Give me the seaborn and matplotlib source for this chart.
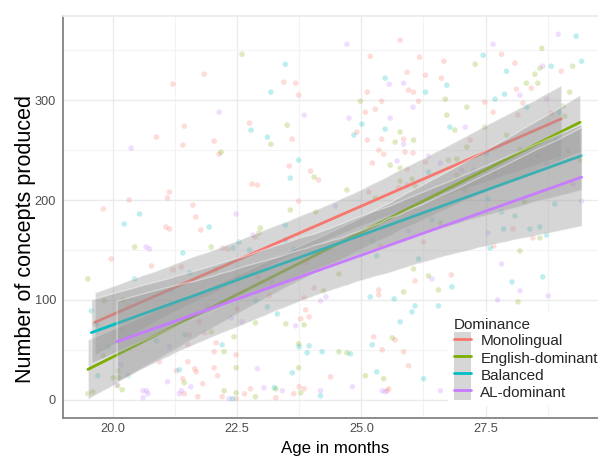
import numpy as np
import pandas as pd
import seaborn as sns
import matplotlib.pyplot as plt
from matplotlib.patches import Patch
from matplotlib.lines import Line2D

# Veriler (grafikten okunan yaklasik degerler)
groups = ["Monolingual", "English-dominant", "Balanced", "AL-dominant"]
colors = ["#F8766D", "#7CAE00", "#00BFC4", "#C77CFF"]

mono_age = [21.84, 21.21, 21.44, 20.88, 21.41, 22.04, 22.14, 21.14, 20.33, 21.10, 19.81, 21.61, 21.67,
            25.78, 25.18, 26.17, 25.92, 25.95, 26.05, 23.44, 23.68, 23.74, 25.12, 25.41, 26.15, 25.28,
            25.08, 22.75, 24.91, 23.61, 25.12, 25.41, 25.85, 25.35, 25.45, 25.88, 26.04, 25.22, 25.92,
            23.55, 23.98, 24.14, 25.75, 25.92, 22.80, 22.91, 25.15, 23.74, 26.66, 27.82, 28.09, 29.02,
            26.29, 26.61, 28.12, 28.42, 27.48, 28.25, 27.65, 28.82, 28.15, 27.19, 26.29, 27.69, 28.05,
            28.45, 26.25, 27.66, 26.81, 21.07, 21.14, 21.77, 22.21, 22.31, 19.97, 20.78, 21.21, 21.38,
            19.64, 20.31, 20.20, 20.94, 21.54, 21.51, 21.51, 21.28, 21.65, 21.68, 21.41, 21.81, 21.44,
            21.71, 21.85, 22.08, 22.04, 22.04, 22.11, 21.90, 21.74, 22.48, 22.20, 22.48, 22.50, 22.87,
            23.88, 22.92, 23.04, 23.15, 24.05, 23.85, 23.88, 23.78, 23.95, 25.35, 25.35, 26.08, 25.38,
            25.25, 25.42, 25.68, 25.85, 25.95, 25.52, 25.55, 24.38, 22.65, 22.77, 23.28, 23.64, 23.75,
            23.85]
mono_conc = [326, 316, 274, 263, 255, 259, 246, 208, 200, 202, 191, 195, 183,
             360, 344, 343, 328, 310, 308, 318, 317, 305, 308, 299, 299, 291,
             288, 277, 268, 261, 260, 261, 261, 250, 246, 248, 247, 237, 231,
             234, 229, 220, 212, 215, 216, 215, 208, 199, 339, 346, 337, 329,
             325, 322, 311, 312, 298, 297, 288, 287, 285, 260, 238, 226, 171,
             162, 158, 154, 125, 173, 171, 170, 152, 151, 141, 134, 130, 133,
             76, 93, 70, 38, 65, 55, 38, 29, 31, 28, 21, 16, 6,
             3, 67, 57, 48, 32, 24, 94, 78, 45, 3, 1, 91, 163,
             137, 123, 118, 104, 112, 102, 90, 81, 83, 110, 105, 119, 154,
             63, 50, 60, 48, 34, 9, 11, 23, 6, 11, 2, 6, 13,
             11]

# son nokta lejantin altinda kaliyor (tahmini)
eng_age = [22.60, 22.18, 24.98, 23.51, 25.78, 25.68, 26.05, 23.18, 25.58, 25.78, 24.05, 25.78, 26.02,
           26.08, 24.71, 25.28, 23.57, 24.08, 28.63, 27.29, 29.25, 28.59, 28.49, 28.32, 28.55, 29.19,
           26.69, 27.12, 29.06, 26.72, 29.09, 26.88, 27.48, 27.92, 27.12, 28.19, 26.75, 26.92, 29.16,
           29.40, 26.92, 27.09, 26.55, 28.28, 26.59, 28.59, 28.19, 26.35, 26.55, 28.15, 20.44, 21.98,
           22.07, 19.50, 19.83, 20.21, 19.81, 20.01, 20.11, 20.12, 20.10, 20.19, 19.50, 19.60, 21.44,
           21.98, 22.24, 22.48, 22.24, 22.48, 22.44, 22.51, 22.97, 22.94, 24.55, 24.24, 23.85, 23.48,
           22.87, 25.85, 26.05, 25.62, 25.45, 25.08, 23.74, 24.55, 24.71, 23.74, 22.87, 23.28, 23.78,
           28.60]
eng_conc = [346, 248, 299, 275, 268, 258, 260, 256, 235, 232, 223, 219, 221,
            214, 210, 202, 190, 188, 352, 336, 334, 332, 326, 317, 317, 308,
            301, 293, 294, 285, 284, 270, 273, 265, 253, 251, 240, 241, 249,
            240, 225, 210, 206, 198, 177, 162, 149, 124, 110, 98, 153, 153,
            130, 121, 99, 100, 44, 22, 29, 22, 14, 10, 6, 8, 17,
            68, 48, 32, 9, 7, 63, 124, 172, 167, 126, 109, 75, 76,
            77, 108, 131, 62, 21, 24, 56, 48, 47, 32, 3, 11, 7,
            60]

bal_age = [20.54, 23.47, 25.48, 23.18, 25.01, 22.78, 25.48, 24.85, 23.11, 23.74, 23.57, 29.32, 27.45,
           29.43, 28.82, 27.92, 26.72, 26.29, 27.88, 27.69, 28.33, 28.99, 26.78, 28.92, 27.52, 28.96,
           26.35, 27.55, 28.89, 27.82, 28.09, 26.42, 27.86, 28.39, 28.59, 28.72, 26.15, 27.59, 26.82,
           28.03, 28.65, 26.55, 26.25, 20.23, 21.94, 22.54, 22.42, 21.41, 21.55, 20.44, 19.57, 19.68,
           21.17, 21.17, 19.91, 19.70, 20.31, 20.88, 21.45, 21.34, 22.20, 22.41, 23.47, 23.47, 22.75,
           23.64, 22.88, 23.11, 23.31, 25.18, 25.66, 26.08, 26.02, 25.78, 25.31, 25.23, 25.22, 25.31,
           23.75, 23.95, 23.91, 24.21, 24.78, 23.61, 23.25, 24.18]
bal_conc = [186, 336, 322, 308, 276, 270, 271, 265, 263, 240, 222, 364, 345,
            339, 334, 329, 315, 308, 306, 301, 293, 288, 273, 260, 247, 242,
            228, 201, 196, 188, 184, 180, 171, 171, 173, 165, 141, 152, 113,
            118, 123, 94, 21, 176, 173, 158, 152, 147, 127, 121, 89, 75,
            110, 96, 53, 24, 24, 59, 65, 30, 55, 1, 175, 160, 150,
            151, 99, 93, 86, 103, 101, 94, 88, 78, 144, 159, 55, 28,
            53, 54, 47, 48, 46, 27, 12, 4]

# son bes nokta lejantin altinda kaliyor (tahmini)
al_age = [22.14, 20.37, 22.48, 24.71, 25.56, 25.85, 26.04, 23.85, 24.75, 25.58, 25.85, 25.72, 24.48,
          28.96, 27.65, 28.65, 28.19, 28.73, 27.09, 26.35, 26.59, 28.56, 28.73, 27.26, 27.02, 29.26,
          29.43, 27.55, 27.82, 26.42, 28.19, 27.74, 28.76, 26.59, 20.67, 20.74, 20.17, 20.08, 21.10,
          20.61, 20.68, 20.61, 20.71, 21.14, 21.57, 21.38, 21.34, 22.34, 22.60, 22.38, 22.82, 23.19,
          24.29, 24.18, 23.68, 25.95, 24.82, 25.42, 25.48, 22.91, 23.04, 23.41, 24.18,
          27.10, 27.80, 28.40, 28.90, 29.30]
al_conc = [288, 252, 186, 356, 316, 317, 293, 285, 282, 282, 256, 239, 194,
           366, 356, 334, 305, 301, 273, 244, 237, 244, 236, 230, 230, 216,
           199, 167, 136, 121, 109, 100, 104, 9, 153, 151, 35, 15, 18,
           9, 9, 2, 6, 53, 13, 9, 6, 1, 78, 82, 165, 119,
           103, 99, 74, 169, 13, 9, 8, 31, 12, 9, 9,
           70, 25, 85, 40, 30]

df = pd.concat([
    pd.DataFrame({"Age": mono_age, "Concepts": mono_conc, "Dominance": groups[0]}),
    pd.DataFrame({"Age": eng_age, "Concepts": eng_conc, "Dominance": groups[1]}),
    pd.DataFrame({"Age": bal_age, "Concepts": bal_conc, "Dominance": groups[2]}),
    pd.DataFrame({"Age": al_age, "Concepts": al_conc, "Dominance": groups[3]}),
], ignore_index=True)

# Grafik
sns.set_theme(style="white")
plt.rcParams["font.family"] = ["Liberation Sans", "DejaVu Sans"]

fig = plt.figure(figsize=(5.98, 4.57), dpi=100)
ax = fig.add_axes([0.1054, 0.0853, 0.8946, 0.8797])

sns.scatterplot(data=df, x="Age", y="Concepts", hue="Dominance", hue_order=groups,
                palette=colors, alpha=0.25, s=16, linewidth=0, legend=False, ax=ax, zorder=2)

# her grup icin once bant sonra cizgi (ggplot sirasi)
for i, (g, c) in enumerate(zip(groups, colors)):
    sub = df[df["Dominance"] == g]
    sns.regplot(data=sub, x="Age", y="Concepts", scatter=False, ci=95, n_boot=1000, seed=1,
                color=c, line_kws={"linewidth": 2.0, "zorder": 4 + 2 * i}, ax=ax)
    band = ax.collections[-1]
    band.set_facecolor("#999999")
    band.set_alpha(0.4)
    band.set_zorder(3 + 2 * i)

ax.set_xlim(19.0, 29.76)
ax.set_ylim(-18.3, 384.3)
ax.set_xticks([20.0, 22.5, 25.0, 27.5])
ax.set_xticklabels(["20.0", "22.5", "25.0", "27.5"])
ax.set_yticks([0, 100, 200, 300])
ax.set_xticks([21.25, 23.75, 26.25, 28.75], minor=True)
ax.set_yticks([50, 150, 250, 350], minor=True)
ax.grid(True, which="major", color="#EBEBEB", linewidth=1.0, zorder=0)
ax.grid(True, which="minor", color="#F3F3F3", linewidth=0.8, zorder=0)
ax.set_axisbelow(True)
ax.tick_params(axis="both", which="both", length=0, labelsize=9.2, labelcolor="#4D4D4D")
ax.tick_params(axis="x", pad=3.5)
ax.tick_params(axis="y", pad=5)

ax.spines["right"].set_visible(False)
ax.spines["top"].set_color("#EBEBEB")
ax.spines["left"].set_color("#7F7F7F")
ax.spines["bottom"].set_color("#7F7F7F")

ax.set_xlabel("Age in months", fontsize=12.2, color="black")
ax.set_ylabel("Number of concepts produced", fontsize=15.5, color="black")
ax.xaxis.set_label_coords(0.508, -0.0935, transform=ax.transAxes)
ax.yaxis.set_label_coords(-0.051, 0.445, transform=ax.transAxes)
ax.xaxis.label.set_va("bottom")

handles = [(Patch(facecolor="#D6D6D6", edgecolor="none"), Line2D([], [], color=c, linewidth=2.0))
           for c in colors]
leg = ax.legend(handles, groups, title="Dominance", loc="upper left",
                bbox_to_anchor=(0.749, 0.318), bbox_transform=fig.transFigure,
                frameon=True, facecolor="white", edgecolor="none", framealpha=1, fancybox=False,
                fontsize=11, title_fontsize=11, alignment="left",
                handlelength=1.13, handleheight=1.35, labelspacing=0.0, handletextpad=0.59,
                borderpad=0.4, borderaxespad=0)
leg.set_zorder(20)

plt.savefig("out.png", dpi=100)
